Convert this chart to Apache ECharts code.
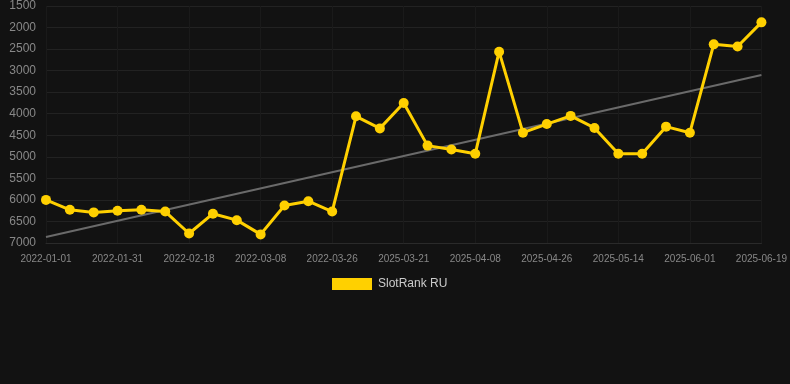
<!DOCTYPE html>
<html>
<head>
<meta charset="utf-8">
<script src="https://cdn.jsdelivr.net/npm/echarts@6/dist/echarts.min.js"></script>
<style>
  html, body { margin: 0; padding: 0; background: #121212; }
  #chart { width: 790px; height: 384px; }
</style>
</head>
<body>
<div id="chart"></div>
<script>
// dates on the x axis
var dates = [
  '2022-01-01', '2022-01-19', '2022-01-25', '2022-01-31', '2022-02-06', '2022-02-12',
  '2022-02-18', '2022-02-24', '2022-03-02', '2022-03-08', '2022-03-14', '2022-03-20',
  '2022-03-26', '2025-03-09', '2025-03-15', '2025-03-21', '2025-03-27', '2025-04-02',
  '2025-04-08', '2025-04-14', '2025-04-20', '2025-04-26', '2025-05-02', '2025-05-08',
  '2025-05-14', '2025-05-20', '2025-05-26', '2025-06-01', '2025-06-07', '2025-06-13',
  '2025-06-19'
];
// rank values (lower = better, axis inverted)
var ranks = [
  6000, 6230, 6290, 6250, 6230, 6270, 6780, 6320, 6470, 6800, 6130, 6030,
  6270, 4060, 4340, 3750, 4740, 4830, 4930, 2560, 4440, 4240, 4050, 4330,
  4930, 4930, 4300, 4440, 2390, 2440, 1880
];
// trend line end points
var trendStart = 6860;
var trendEnd = 3100;

var chart = echarts.init(document.getElementById('chart'));

chart.setOption({
  backgroundColor: '#121212',
  animation: false,
  grid: {
    left: 46,
    right: 28,
    top: 6,
    bottom: 141
  },
  legend: {
    top: 273,
    left: 327,
    itemWidth: 40,
    itemHeight: 12,
    itemGap: 10,
    icon: 'rect',
    textStyle: { color: '#cccccc', fontSize: 12, padding: [0, 0, 0, 1] },
    data: ['SlotRank RU']
  },
  xAxis: {
    type: 'category',
    boundaryGap: false,
    data: dates,
    axisLine: { lineStyle: { color: '#2a2a2a' } },
    axisTick: { show: false },
    axisLabel: {
      color: '#888888',
      fontSize: 10,
      margin: 11,
      interval: 2
    },
    splitLine: {
      show: true,
      interval: 2,
      lineStyle: { color: '#1a1a1a' }
    }
  },
  yAxis: {
    type: 'value',
    inverse: true,
    min: 1500,
    max: 7000,
    interval: 500,
    axisLine: { show: false },
    axisTick: { show: false },
    axisLabel: {
      color: '#888888',
      fontSize: 12,
      margin: 10,
      formatter: function (v) { return String(v); }
    },
    splitLine: { lineStyle: { color: '#222222' } }
  },
  series: [
    {
      name: 'SlotRank RU',
      type: 'line',
      data: ranks,
      color: '#FFD000',
      symbol: 'circle',
      symbolSize: 10,
      lineStyle: { width: 3, color: '#FFD000' },
      itemStyle: { color: '#FFD000' },
      z: 3
    },
    {
      name: 'trend',
      type: 'line',
      data: [[dates[0], trendStart], [dates[dates.length - 1], trendEnd]],
      symbol: 'none',
      lineStyle: { width: 2, color: '#6a6a6a' },
      z: 2
    }
  ]
});
</script>
</body>
</html>
